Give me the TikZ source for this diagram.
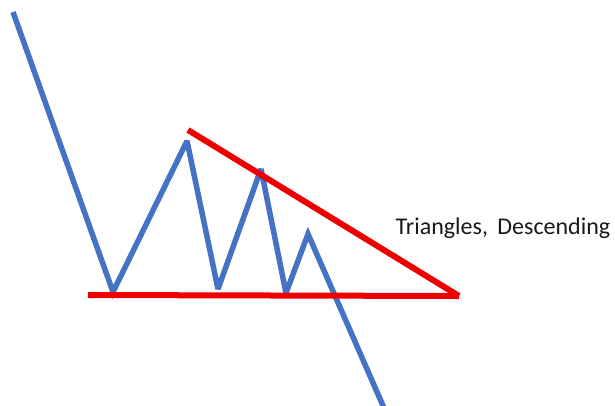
\documentclass[tikz,border=0pt]{standalone}
\usepackage{fontspec}
\setmainfont{Carlito}
\definecolor{lineblue}{RGB}{68,114,196}
\definecolor{linered}{RGB}{238,0,0}
\begin{document}
\begin{tikzpicture}[x=1pt,y=-1pt,
  price/.style={draw=lineblue,line width=5.5pt,line join=miter,miter limit=3,line cap=butt},
  trend/.style={draw=linered,line width=6pt,line cap=butt},
  lbl/.style={font=\fontsize{24}{28}\selectfont,text=black!90,inner sep=0pt,anchor=base}]
\useasboundingbox (0,0) rectangle (615,405);
\coordinate (p0) at (13,12);
\coordinate (p1) at (113,292);
\coordinate (p2) at (187,141);
\coordinate (p3) at (218,289);
\coordinate (p4) at (261,169);
\coordinate (p5) at (286,293);
\coordinate (p6) at (308,234);
\coordinate (p7) at (384,408);
\coordinate (h0) at (88,295);
\coordinate (h1) at (459,296);
\coordinate (d0) at (188,130);
\draw[price] (p0) -- (p1) -- (p2) -- (p3) -- (p4) -- (p5) -- (p6) -- (p7);
\draw[trend] (h0) -- (h1);
\draw[trend] (d0) -- (h1);
\node[lbl] (title) at (503,234) {Triangles,\hspace{4pt} Descending};
\end{tikzpicture}
\end{document}
